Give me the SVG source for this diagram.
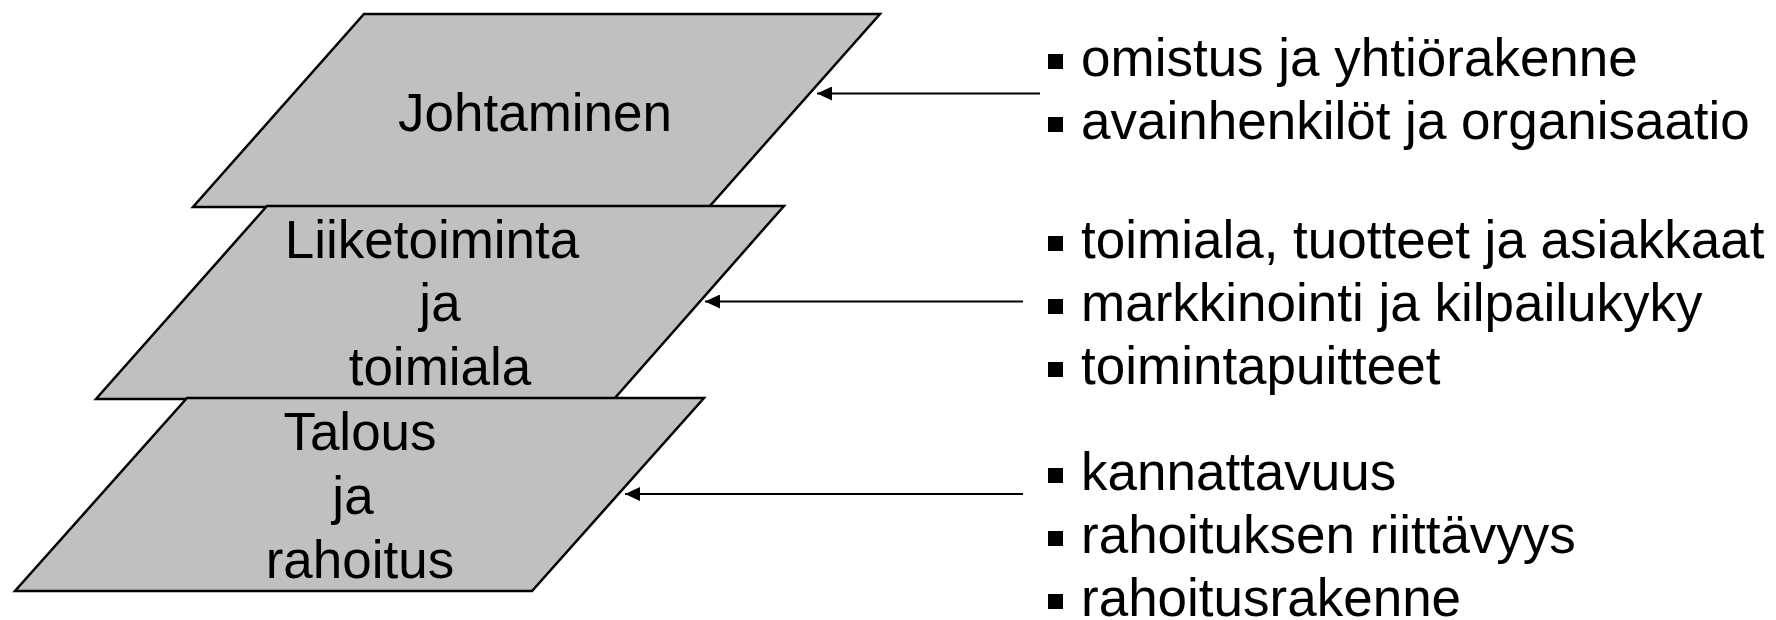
<svg xmlns="http://www.w3.org/2000/svg" width="1776" height="620" viewBox="0 0 1776 620">
  <style>
    .layer { fill: #c0c0c0; stroke: #000000; stroke-width: 2.5; stroke-linejoin: miter; }
    .lbl { font-family: "Liberation Sans", Arial, sans-serif; font-size: 53px; fill: #000000; text-anchor: middle; }
    .item { font-family: "Liberation Sans", Arial, sans-serif; font-size: 53px; fill: #000000; }
    .bullet { fill: #000000; }
    .conn { stroke: #000000; stroke-width: 2; fill: none; marker-end: url(#arrow); }
  </style>
  <defs>
    <marker id="arrow" markerUnits="userSpaceOnUse" markerWidth="16" markerHeight="14" refX="15" refY="7" orient="auto">
      <path d="M0,0 L15,7 L0,14 Z" fill="#000000"/>
    </marker>
  </defs>

  <g id="node-johtaminen">
    <polygon class="layer" points="364,14 880,14 709,207 193,207"/>
    <text class="lbl" x="535" y="131">Johtaminen</text>
  </g>

  <g id="node-liiketoiminta">
    <polygon class="layer" points="267,206 784,206 614,399 96,399"/>
    <text class="lbl" x="432" y="258">Liiketoiminta</text>
    <text class="lbl" x="440" y="321">ja</text>
    <text class="lbl" x="440" y="385">toimiala</text>
  </g>

  <g id="node-talous">
    <polygon class="layer" points="187,398 704,398 532,591 15,591"/>
    <text class="lbl" x="360" y="450">Talous</text>
    <text class="lbl" x="353" y="514">ja</text>
    <text class="lbl" x="360" y="578">rahoitus</text>
  </g>

  <g id="list-johtaminen">
    <rect class="bullet" x="1048" y="54" width="15" height="15"/>
    <text class="item" x="1081" y="76">omistus ja yhtiörakenne</text>
    <rect class="bullet" x="1048" y="117" width="15" height="15"/>
    <text class="item" x="1081" y="139">avainhenkilöt ja organisaatio</text>
  </g>

  <g id="list-liiketoiminta">
    <rect class="bullet" x="1048" y="236" width="15" height="15"/>
    <text class="item" x="1081" y="258">toimiala, tuotteet ja asiakkaat</text>
    <rect class="bullet" x="1048" y="299" width="15" height="15"/>
    <text class="item" x="1081" y="321">markkinointi ja kilpailukyky</text>
    <rect class="bullet" x="1048" y="362" width="15" height="15"/>
    <text class="item" x="1081" y="384">toimintapuitteet</text>
  </g>

  <g id="list-talous">
    <rect class="bullet" x="1048" y="468" width="15" height="15"/>
    <text class="item" x="1081" y="490">kannattavuus</text>
    <rect class="bullet" x="1048" y="531" width="15" height="15"/>
    <text class="item" x="1081" y="553">rahoituksen riittävyys</text>
    <rect class="bullet" x="1048" y="594" width="15" height="15"/>
    <text class="item" x="1081" y="616">rahoitusrakenne</text>
  </g>

  <g id="connectors">
    <line class="conn" x1="1040" y1="93.5" x2="817" y2="93.5"/>
    <line class="conn" x1="1023" y1="301.5" x2="705" y2="301.5"/>
    <line class="conn" x1="1023" y1="494" x2="625" y2="494"/>
  </g>
</svg>
